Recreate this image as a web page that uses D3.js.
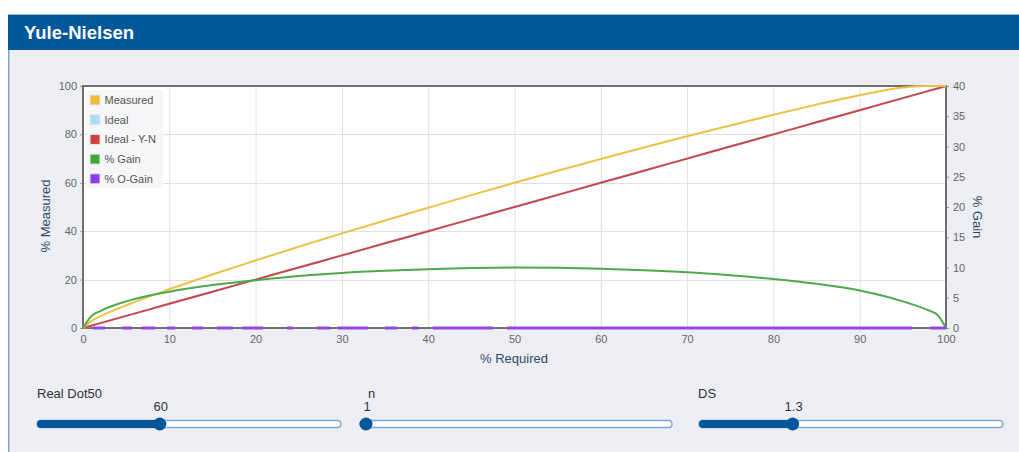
<!DOCTYPE html>
<html><head><meta charset="utf-8">
<script src="https://cdn.jsdelivr.net/npm/d3@7"></script>
<style>
html,body{margin:0;padding:0;background:#fff;}
svg{display:block;font-family:"Liberation Sans",Arial,sans-serif;}
</style></head>
<body>
<svg id="c" width="1019" height="452"></svg>
<script>
const title = "Yule-Nielsen";
const required = [0,0.5,1,2,5,10,15,20,25,30,35,40,45,50,55,60,65,70,75,80,85,90,95,98,99,100];
const measured = [0,1.6,3.0,4.8,9.4,16.0,22.1,27.9,33.6,39.1,44.45,49.7,54.9,60,64.95,69.8,74.55,79.2,83.7,88.1,92.3,96.2,99.4,100,100,100];
const ideal = [0,0.5,1,2,5,10,15,20,25,30,35,40,45,50,55,60,65,70,75,80,85,90,95,98,99,100];
const idealYN = [0,0.5,1,2,5,10,15,20,25,30,35,40,45,50,55,60,65,70,75,80,85,90,95,98,99,100];
const gain = [0,1.1,2.0,2.8,4.4,6.0,7.1,7.9,8.6,9.1,9.45,9.7,9.9,10,9.95,9.8,9.55,9.2,8.7,8.1,7.3,6.2,4.4,2.9,2.2,0];
const oGain = [0,0,0,0,0,0,0,0,0,0,0,0,0,0,0,0,0,0,0,0,0,0,0,0,0,0];
const seriesNames = ["Measured","Ideal","Ideal - Y-N","% Gain","% O-Gain"];
const xTicks = [0,10,20,30,40,50,60,70,80,90,100];
const yLeftTicks = [0,20,40,60,80,100];
const yRightTicks = [0,5,10,15,20,25,30,35,40];
const sliderLabels = ["Real Dot50","n","DS"];
const sliderValues = [60,1,1.3];
const sliderDomains = [[40,90],[1,10],[1,2]];

const colors = {"Measured":"#ecc245","Ideal":"#a9dcf5","Ideal - Y-N":"#cc4747","% Gain":"#4caa4c","% O-Gain":"#9248e0"};
const swatch = {"Measured":"#f0bd35","Ideal":"#aadcf6","Ideal - Y-N":"#d23f3f","% Gain":"#3ea83e","% O-Gain":"#8a3be4"};

const svg = d3.select("#c");
// panel
svg.append("rect").attr("x",8).attr("y",50).attr("width",1011).attr("height",402).attr("fill","#eceef3");
svg.append("line").attr("x1",8.75).attr("x2",8.75).attr("y1",14).attr("y2",452).attr("stroke","#7ea3cf").attr("stroke-width",1.5);
svg.append("rect").attr("x",8).attr("y",14).attr("width",1011).attr("height",36).attr("fill","#00589b");
svg.append("line").attr("x1",8).attr("x2",1019).attr("y1",14.5).attr("y2",14.5).attr("stroke","#9bb7d6").attr("stroke-width",1);
svg.append("text").attr("x",24).attr("y",39).attr("fill","#fff").attr("font-weight","bold").attr("font-size",18.5).text(title);

const L=83,R=946,T=86,B=328;
const x = d3.scaleLinear().domain([0,100]).range([L,R]);
const y = d3.scaleLinear().domain([0,100]).range([B,T]);
const y2 = d3.scaleLinear().domain([0,40]).range([B,T]);

svg.append("rect").attr("x",L).attr("y",T).attr("width",R-L).attr("height",B-T).attr("fill","#fff");
// grid
const g = svg.append("g");
g.selectAll(".vx").data(xTicks.slice(1,-1)).join("line")
  .attr("x1",d=>x(d)+0.5).attr("x2",d=>x(d)+0.5).attr("y1",T).attr("y2",B).attr("stroke","#e0e0e0");
g.selectAll(".hy").data(yLeftTicks.slice(1,-1)).join("line")
  .attr("y1",d=>Math.round(y(d))+0.5).attr("y2",d=>Math.round(y(d))+0.5).attr("x1",L).attr("x2",R).attr("stroke","#e0e0e0");

// axes
const tickStyle = sel => { sel.selectAll("text").attr("fill","#666").attr("font-size",11).attr("font-family","Liberation Sans, Arial, sans-serif"); sel.selectAll("line").attr("stroke","#999"); sel.select(".domain").remove(); };
svg.append("g").attr("transform",`translate(0,${B})`).call(d3.axisBottom(x).tickValues(xTicks).tickSize(0).tickPadding(7)).call(tickStyle);
svg.append("g").attr("transform",`translate(${L},0)`).call(d3.axisLeft(y).tickValues(yLeftTicks).tickSize(3).tickPadding(3)).call(tickStyle);
svg.append("g").attr("transform",`translate(${R},0)`).call(d3.axisRight(y2).tickValues(yRightTicks).tickSize(3).tickPadding(4)).call(tickStyle);

// plot border
svg.append("rect").attr("x",L).attr("y",T).attr("width",R-L).attr("height",B-T).attr("fill","none").attr("stroke","#707070").attr("stroke-width",2);

// axis titles
svg.append("text").attr("transform","translate(50,216) rotate(-90)").attr("text-anchor","middle").attr("font-size",13).attr("fill","#2f4a66").text("% Measured");
svg.append("text").attr("transform","translate(973,217) rotate(90)").attr("text-anchor","middle").attr("font-size",13).attr("fill","#2f4a66").text("% Gain");
svg.append("text").attr("x",514).attr("y",363).attr("text-anchor","middle").attr("font-size",13).attr("fill","#2f4a66").text("% Required");

// lines
const mk = (vals, ys) => d3.line().x((d,i)=>x(required[i])).y(d=>ys(d)).curve(d3.curveMonotoneX)(vals);
const lines = svg.append("g").attr("fill","none").attr("stroke-width",2);
lines.append("path").attr("d",mk(ideal,y)).attr("stroke",colors["Ideal"]);
lines.append("path").attr("d",mk(idealYN,y)).attr("stroke",colors["Ideal - Y-N"]);
lines.append("path").attr("d",mk(measured,y)).attr("stroke",colors["Measured"]);
lines.append("path").attr("d",mk(gain,y2)).attr("stroke",colors["% Gain"]);
lines.append("path").attr("d",mk(oGain,y2)).attr("stroke",colors["% O-Gain"]).attr("stroke-width",3)
  .attr("stroke-dasharray","0,10,12,17,10,10,13,12,8,17,11,14,16,9,21,24,6,24,13,8,30,17,12,15,6,15,60,14,405,18,16");

// legend
const lg = svg.append("g");
lg.append("rect").attr("x",86).attr("y",90).attr("width",77).attr("height",98).attr("fill","#f6f6f9");
seriesNames.forEach((n,i)=>{
  const cy = 100 + i*19.7;
  lg.append("rect").attr("x",90).attr("y",cy-5).attr("width",10).attr("height",10).attr("fill",swatch[n]).attr("stroke","#e6e6ee").attr("stroke-width",1);
  lg.append("text").attr("x",104.5).attr("y",cy+4).attr("font-size",11).attr("fill","#555").text(n);
});

// sliders
const tracks = [[37,341],[360,672],[699,1003]];
sliderLabels.forEach((lab,i)=>{
  const [a,b] = tracks[i];
  const s = d3.scaleLinear().domain(sliderDomains[i]).range([a+6,b-6]);
  const hx = s(sliderValues[i]);
  const sg = svg.append("g");
  sg.append("text").attr("x",i===1?368:(i===2?698:37)).attr("y",398).attr("font-size",13).attr("fill","#333").text(lab);
  sg.append("text").attr("x",hx+1).attr("y",411).attr("text-anchor","middle").attr("font-size",13).attr("fill","#333").text(sliderValues[i]);
  sg.append("rect").attr("x",a).attr("y",420.5).attr("width",b-a).attr("height",7).attr("rx",3.5).attr("fill","#fff").attr("stroke","#7ea6d4").attr("stroke-width",1.5);
  sg.append("rect").attr("x",a).attr("y",420).attr("width",Math.max(0,hx-a)).attr("height",8).attr("rx",4).attr("fill","#00589b");
  sg.append("circle").attr("cx",hx).attr("cy",424).attr("r",6.5).attr("fill","#00589b");
});
</script>
</body></html>
